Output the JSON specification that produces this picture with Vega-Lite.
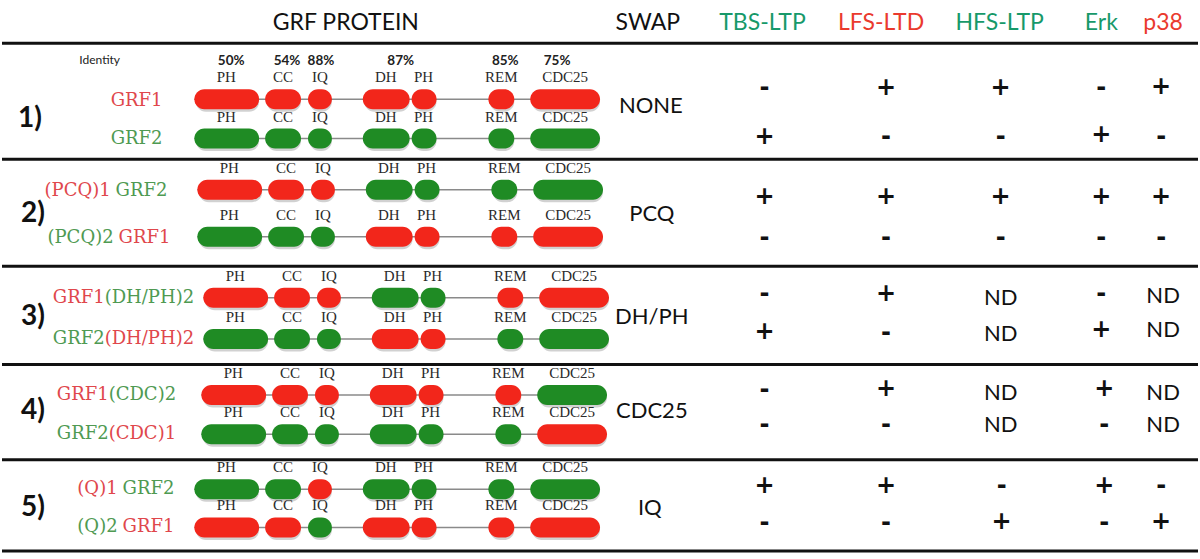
{
"$schema": "https://vega.github.io/schema/vega-lite/v6.json",
"width": 1200, "height": 559, "padding": 0,
"autosize": {"type": "fit", "contains": "padding"},
"background": "white",
"config": {"view": {"stroke": null}},
"datasets": {
"lines": [{"y":39,"x":0,"x2":1200},{"y":157,"x":0,"x2":1200},{"y":266,"x":0,"x2":1200},{"y":366,"x":0,"x2":1200},{"y":463,"x":0,"x2":1200},{"y":556,"x":0,"x2":1200}],
"doms": [
{"t":96,"d":"PH","a":193,"b":258,"m":225,"c":"R"},{"t":96,"d":"CC","a":264,"b":300,"m":282,"c":"R"},{"t":96,"d":"IQ","a":307,"b":331,"m":319,"c":"R"},{"t":96,"d":"DH","a":362,"b":409,"m":385,"c":"R"},{"t":96,"d":"PH","a":411,"b":436,"m":423,"c":"R"},{"t":96,"d":"REM","a":488,"b":514,"m":501,"c":"R"},{"t":96,"d":"CDC25","a":530,"b":600,"m":565,"c":"R"},
{"t":136,"d":"PH","a":193,"b":258,"m":225,"c":"G"},{"t":136,"d":"CC","a":264,"b":300,"m":282,"c":"G"},{"t":136,"d":"IQ","a":307,"b":331,"m":319,"c":"G"},{"t":136,"d":"DH","a":362,"b":409,"m":385,"c":"G"},{"t":136,"d":"PH","a":411,"b":436,"m":423,"c":"G"},{"t":136,"d":"REM","a":488,"b":514,"m":501,"c":"G"},{"t":136,"d":"CDC25","a":530,"b":600,"m":565,"c":"G"},
{"t":188,"d":"PH","a":196,"b":261,"m":228,"c":"R"},{"t":188,"d":"CC","a":267,"b":303,"m":285,"c":"R"},{"t":188,"d":"IQ","a":310,"b":334,"m":322,"c":"R"},{"t":188,"d":"DH","a":365,"b":412,"m":388,"c":"G"},{"t":188,"d":"PH","a":414,"b":439,"m":426,"c":"G"},{"t":188,"d":"REM","a":491,"b":517,"m":504,"c":"G"},{"t":188,"d":"CDC25","a":533,"b":603,"m":568,"c":"G"},
{"t":236,"d":"PH","a":196,"b":261,"m":228,"c":"G"},{"t":236,"d":"CC","a":267,"b":303,"m":285,"c":"G"},{"t":236,"d":"IQ","a":310,"b":334,"m":322,"c":"G"},{"t":236,"d":"DH","a":365,"b":412,"m":388,"c":"R"},{"t":236,"d":"PH","a":414,"b":439,"m":426,"c":"R"},{"t":236,"d":"REM","a":491,"b":517,"m":504,"c":"R"},{"t":236,"d":"CDC25","a":533,"b":603,"m":568,"c":"R"},
{"t":298,"d":"PH","a":202,"b":267,"m":234,"c":"R"},{"t":298,"d":"CC","a":273,"b":309,"m":291,"c":"R"},{"t":298,"d":"IQ","a":316,"b":340,"m":328,"c":"R"},{"t":298,"d":"DH","a":371,"b":418,"m":394,"c":"G"},{"t":298,"d":"PH","a":420,"b":445,"m":432,"c":"G"},{"t":298,"d":"REM","a":497,"b":523,"m":510,"c":"R"},{"t":298,"d":"CDC25","a":539,"b":609,"m":574,"c":"R"},
{"t":340,"d":"PH","a":202,"b":267,"m":234,"c":"G"},{"t":340,"d":"CC","a":273,"b":309,"m":291,"c":"G"},{"t":340,"d":"IQ","a":316,"b":340,"m":328,"c":"G"},{"t":340,"d":"DH","a":371,"b":418,"m":394,"c":"R"},{"t":340,"d":"PH","a":420,"b":445,"m":432,"c":"R"},{"t":340,"d":"REM","a":497,"b":523,"m":510,"c":"G"},{"t":340,"d":"CDC25","a":539,"b":609,"m":574,"c":"G"},
{"t":397,"d":"PH","a":200,"b":265,"m":232,"c":"R"},{"t":397,"d":"CC","a":271,"b":307,"m":289,"c":"R"},{"t":397,"d":"IQ","a":314,"b":338,"m":326,"c":"R"},{"t":397,"d":"DH","a":369,"b":416,"m":392,"c":"R"},{"t":397,"d":"PH","a":418,"b":443,"m":430,"c":"R"},{"t":397,"d":"REM","a":495,"b":521,"m":508,"c":"R"},{"t":397,"d":"CDC25","a":537,"b":607,"m":572,"c":"G"},
{"t":437,"d":"PH","a":200,"b":265,"m":232,"c":"G"},{"t":437,"d":"CC","a":271,"b":307,"m":289,"c":"G"},{"t":437,"d":"IQ","a":314,"b":338,"m":326,"c":"G"},{"t":437,"d":"DH","a":369,"b":416,"m":392,"c":"G"},{"t":437,"d":"PH","a":418,"b":443,"m":430,"c":"G"},{"t":437,"d":"REM","a":495,"b":521,"m":508,"c":"G"},{"t":437,"d":"CDC25","a":537,"b":607,"m":572,"c":"R"},
{"t":493,"d":"PH","a":193,"b":258,"m":225,"c":"G"},{"t":493,"d":"CC","a":264,"b":300,"m":282,"c":"G"},{"t":493,"d":"IQ","a":307,"b":331,"m":319,"c":"R"},{"t":493,"d":"DH","a":362,"b":409,"m":385,"c":"G"},{"t":493,"d":"PH","a":411,"b":436,"m":423,"c":"G"},{"t":493,"d":"REM","a":488,"b":514,"m":501,"c":"G"},{"t":493,"d":"CDC25","a":530,"b":600,"m":565,"c":"G"},
{"t":532,"d":"PH","a":193,"b":258,"m":225,"c":"R"},{"t":532,"d":"CC","a":264,"b":300,"m":282,"c":"R"},{"t":532,"d":"IQ","a":307,"b":331,"m":319,"c":"G"},{"t":532,"d":"DH","a":362,"b":409,"m":385,"c":"R"},{"t":532,"d":"PH","a":411,"b":436,"m":423,"c":"R"},{"t":532,"d":"REM","a":488,"b":514,"m":501,"c":"R"},{"t":532,"d":"CDC25","a":530,"b":600,"m":565,"c":"R"}
],
"segs": [
{"x":109,"y":98,"s":"GRF1","c":"r","al":"l"},{"x":109,"y":136,"s":"GRF2","c":"g","al":"l"},
{"x":109,"y":189,"s":"(PCQ)1","c":"r","al":"r"},{"x":114,"y":189,"s":"GRF2","c":"g","al":"l"},
{"x":112,"y":237,"s":"(PCQ)2","c":"g","al":"r"},{"x":117,"y":237,"s":"GRF1","c":"r","al":"l"},
{"x":103,"y":298,"s":"GRF1","c":"r","al":"r"},{"x":103,"y":298,"s":"(DH/PH)2","c":"g","al":"l"},
{"x":103,"y":340,"s":"GRF2","c":"g","al":"r"},{"x":103,"y":340,"s":"(DH/PH)2","c":"r","al":"l"},
{"x":107,"y":397,"s":"GRF1","c":"r","al":"r"},{"x":107,"y":397,"s":"(CDC)2","c":"g","al":"l"},
{"x":107,"y":437,"s":"GRF2","c":"g","al":"r"},{"x":107,"y":437,"s":"(CDC)1","c":"r","al":"l"},
{"x":116,"y":493,"s":"(Q)1","c":"r","al":"r"},{"x":121,"y":493,"s":"GRF2","c":"g","al":"l"},
{"x":116,"y":532,"s":"(Q)2","c":"g","al":"r"},{"x":121,"y":532,"s":"GRF1","c":"r","al":"l"}
],
"hdr": [
{"x":345,"y":18,"s":"GRF PROTEIN","c":"k"},{"x":648,"y":18,"s":"SWAP","c":"k"},{"x":763,"y":18,"s":"TBS-LTP","c":"hg"},{"x":882,"y":18,"s":"LFS-LTD","c":"hr"},{"x":1001,"y":18,"s":"HFS-LTP","c":"hg"},{"x":1103,"y":18,"s":"Erk","c":"hg"},{"x":1165,"y":18,"s":"p38","c":"hr"}
],
"swap": [
{"x":651,"y":103,"s":"NONE"},{"x":652,"y":213,"s":"PCQ"},{"x":652,"y":318,"s":"DH/PH"},{"x":652,"y":413,"s":"CDC25"},{"x":650,"y":512,"s":"IQ"}
],
"nums": [{"x":28,"y":116,"s":"1)"},{"x":31,"y":213,"s":"2)"},{"x":31,"y":318,"s":"3)"},{"x":31,"y":413,"s":"4)"},{"x":31,"y":512,"s":"5)"}],
"pct": [{"x":98,"y":56,"s":"Identity"},{"x":230,"y":57,"s":"50%"},{"x":286,"y":57,"s":"54%"},{"x":320,"y":57,"s":"88%"},{"x":400,"y":57,"s":"87%"},{"x":505,"y":57,"s":"85%"},{"x":557,"y":57,"s":"75%"}],
"res": [
{"x":765,"y":85,"s":"-"},{"x":887,"y":85,"s":"+"},{"x":1002,"y":85,"s":"+"},{"x":1103,"y":85,"s":"-"},{"x":1163,"y":84,"s":"+"},
{"x":765,"y":134,"s":"+"},{"x":887,"y":134,"s":"-"},{"x":1002,"y":134,"s":"-"},{"x":1103,"y":132,"s":"+"},{"x":1163,"y":134,"s":"-"},
{"x":765,"y":195,"s":"+"},{"x":887,"y":195,"s":"+"},{"x":1002,"y":195,"s":"+"},{"x":1103,"y":195,"s":"+"},{"x":1163,"y":195,"s":"+"},
{"x":765,"y":237,"s":"-"},{"x":887,"y":237,"s":"-"},{"x":1002,"y":237,"s":"-"},{"x":1103,"y":237,"s":"-"},{"x":1163,"y":237,"s":"-"},
{"x":765,"y":294,"s":"-"},{"x":887,"y":294,"s":"+"},{"x":1002,"y":298,"s":"ND"},{"x":1103,"y":294,"s":"-"},{"x":1165,"y":296,"s":"ND"},
{"x":765,"y":333,"s":"+"},{"x":887,"y":334,"s":"-"},{"x":1002,"y":335,"s":"ND"},{"x":1103,"y":331,"s":"+"},{"x":1165,"y":331,"s":"ND"},
{"x":765,"y":392,"s":"-"},{"x":887,"y":391,"s":"+"},{"x":1002,"y":395,"s":"ND"},{"x":1106,"y":391,"s":"+"},{"x":1165,"y":395,"s":"ND"},
{"x":765,"y":428,"s":"-"},{"x":887,"y":428,"s":"-"},{"x":1002,"y":428,"s":"ND"},{"x":1106,"y":428,"s":"-"},{"x":1165,"y":428,"s":"ND"},
{"x":765,"y":490,"s":"+"},{"x":887,"y":490,"s":"+"},{"x":1003,"y":490,"s":"-"},{"x":1106,"y":490,"s":"+"},{"x":1163,"y":490,"s":"-"},
{"x":765,"y":527,"s":"-"},{"x":887,"y":527,"s":"-"},{"x":1003,"y":526,"s":"+"},{"x":1106,"y":527,"s":"-"},{"x":1163,"y":526,"s":"+"}
]
},
"layer": [
{"data":{"name":"lines"},"mark":{"type":"rule","strokeWidth":3,"color":"#111111"},
 "encoding":{"x":{"field":"x","type":"quantitative","scale":{"domain":[0,1200],"nice":false,"zero":false},"axis":null},"x2":{"field":"x2"},"y":{"field":"y","type":"quantitative","scale":{"domain":[0,559],"reverse":true,"nice":false,"zero":false},"axis":null}}},
{"data":{"name":"doms"},"mark":{"type":"rule","strokeWidth":1.5,"color":"#8a8a8a"},
 "encoding":{"x":{"aggregate":"min","field":"a","type":"quantitative","axis":null},"x2":{"aggregate":"max","field":"b"},"y":{"field":"t","type":"quantitative","axis":null}}},
{"data":{"name":"doms"},"mark":{"type":"bar","height":20,"cornerRadius":10,"color":"#000000","opacity":0.18,"xOffset":1.5,"yOffset":2.5},
 "encoding":{"x":{"field":"a","type":"quantitative","axis":null},"x2":{"field":"b"},"y":{"field":"t","type":"quantitative","axis":null}}},
{"data":{"name":"doms"},"mark":{"type":"bar","height":20,"cornerRadius":10},
 "encoding":{"x":{"field":"a","type":"quantitative","axis":null},"x2":{"field":"b"},"y":{"field":"t","type":"quantitative","axis":null},
  "color":{"field":"c","type":"nominal","legend":null,"scale":{"domain":["R","G","r","g","k","hr","hg"],"range":["#f2261b","#1f8b24","#e0474c","#4f9a52","#111111","#ea3a2e","#17996a"]}}}},
{"data":{"name":"doms"},"mark":{"type":"text","font":"Liberation Serif","fontSize":15,"dy":-17,"baseline":"alphabetic","color":"#2a2a2a"},
 "encoding":{"x":{"field":"m","type":"quantitative","axis":null},"y":{"field":"t","type":"quantitative","axis":null},"text":{"field":"d"}}},
{"data":{"name":"segs"},"transform":[{"filter":"datum.al == 'l'"}],"mark":{"type":"text","font":"DejaVu Serif","fontSize":18,"align":"left","baseline":"middle"},
 "encoding":{"x":{"field":"x","type":"quantitative","axis":null},"y":{"field":"y","type":"quantitative","axis":null},"text":{"field":"s"},"color":{"field":"c","type":"nominal","legend":null}}},
{"data":{"name":"segs"},"transform":[{"filter":"datum.al == 'r'"}],"mark":{"type":"text","font":"DejaVu Serif","fontSize":18,"align":"right","baseline":"middle"},
 "encoding":{"x":{"field":"x","type":"quantitative","axis":null},"y":{"field":"y","type":"quantitative","axis":null},"text":{"field":"s"},"color":{"field":"c","type":"nominal","legend":null}}},
{"data":{"name":"hdr"},"mark":{"type":"text","font":"Lato","fontSize":23,"align":"center","baseline":"middle"},
 "encoding":{"x":{"field":"x","type":"quantitative","axis":null},"y":{"field":"y","type":"quantitative","axis":null},"text":{"field":"s"},"color":{"field":"c","type":"nominal","legend":null}}},
{"data":{"name":"swap"},"mark":{"type":"text","font":"Lato","fontSize":22,"align":"center","baseline":"middle","color":"#111111"},
 "encoding":{"x":{"field":"x","type":"quantitative","axis":null},"y":{"field":"y","type":"quantitative","axis":null},"text":{"field":"s"}}},
{"data":{"name":"nums"},"mark":{"type":"text","font":"Lato","fontSize":28,"fontWeight":"bold","align":"center","baseline":"middle","color":"#111111"},
 "encoding":{"x":{"field":"x","type":"quantitative","axis":null},"y":{"field":"y","type":"quantitative","axis":null},"text":{"field":"s"}}},
{"data":{"name":"pct"},"transform":[{"filter":"datum.s != 'Identity'"}],"mark":{"type":"text","font":"Lato","fontSize":13.5,"fontWeight":"bold","align":"center","baseline":"middle","color":"#222222"},
 "encoding":{"x":{"field":"x","type":"quantitative","axis":null},"y":{"field":"y","type":"quantitative","axis":null},"text":{"field":"s"}}},
{"data":{"name":"pct"},"transform":[{"filter":"datum.s == 'Identity'"}],"mark":{"type":"text","font":"Lato","fontSize":12,"align":"center","baseline":"middle","color":"#222222"},
 "encoding":{"x":{"field":"x","type":"quantitative","axis":null},"y":{"field":"y","type":"quantitative","axis":null},"text":{"field":"s"}}},
{"data":{"name":"res"},"transform":[{"filter":"datum.s != 'ND'"}],"mark":{"type":"text","font":"DejaVu Sans","fontSize":24,"fontWeight":"bold","align":"center","baseline":"middle","color":"#111111"},
 "encoding":{"x":{"field":"x","type":"quantitative","axis":null},"y":{"field":"y","type":"quantitative","axis":null},"text":{"field":"s"}}},
{"data":{"name":"res"},"transform":[{"filter":"datum.s == 'ND'"}],"mark":{"type":"text","font":"Lato","fontSize":22,"align":"center","baseline":"middle","color":"#111111"},
 "encoding":{"x":{"field":"x","type":"quantitative","axis":null},"y":{"field":"y","type":"quantitative","axis":null},"text":{"field":"s"}}}
]
}
